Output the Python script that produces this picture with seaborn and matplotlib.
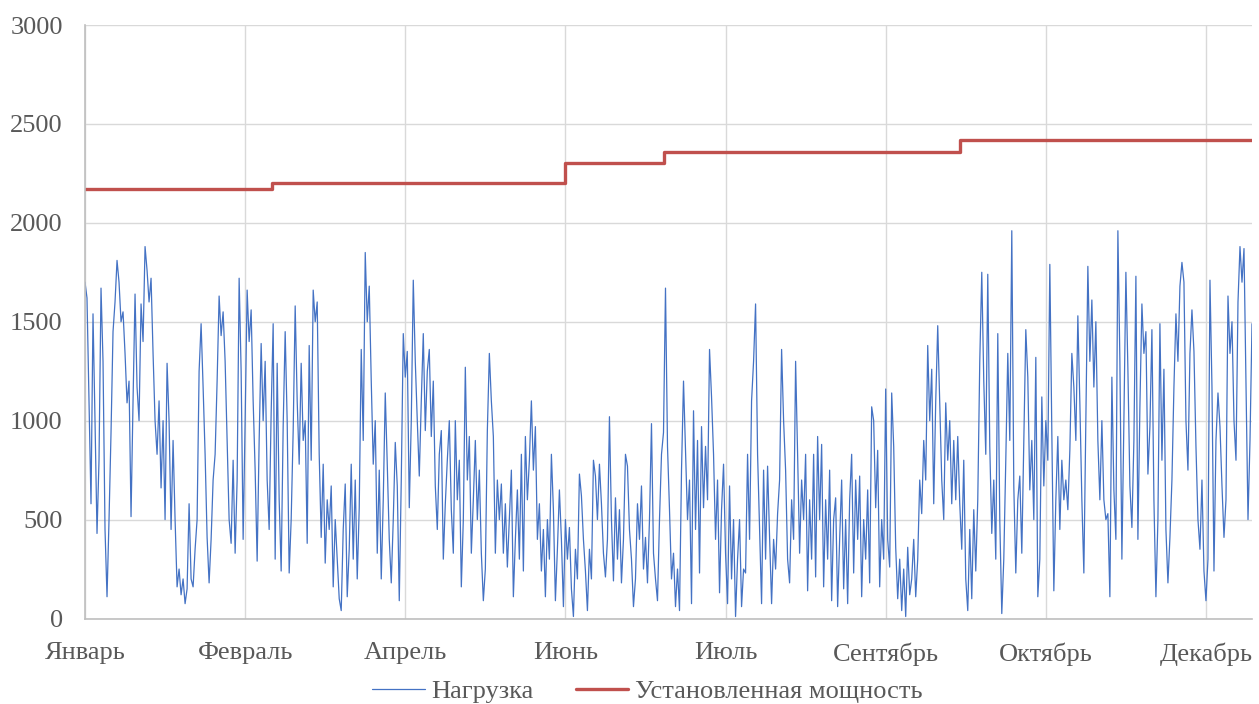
import numpy as np
import pandas as pd
import matplotlib
matplotlib.use("Agg")
import matplotlib.pyplot as plt
import seaborn as sns

# Hourly load over the year, sampled every 15 hours (MW)
LOAD = [
    1700, 1620, 1100, 580, 1540, 1000, 430, 800, 1670, 1300, 450, 110, 500, 940, 1450, 1600,
    1810, 1700, 1500, 1550, 1340, 1090, 1200, 515, 1100, 1640, 1170, 1000, 1590, 1400, 1880, 1760,
    1600, 1720, 1340, 1000, 830, 1100, 660, 1000, 500, 1290, 1000, 450, 900, 500, 160, 250,
    120, 200, 75, 150, 580, 200, 160, 350, 500, 1250, 1490, 1170, 830, 410, 180, 400,
    700, 830, 1200, 1630, 1430, 1550, 1300, 900, 500,
    380, 800, 330, 700, 1720, 1250, 400, 1000, 1660, 1400, 1560, 1100, 750, 290, 900, 1390,
    1000, 1300, 700, 450, 1040, 1490, 300, 1290, 600, 240, 970, 1450, 1000, 230, 500, 950,
    1580, 1100, 780, 1290, 900, 1000, 380, 1380, 800, 1660, 1500, 1600, 830, 410, 780, 280,
    600, 450, 670, 160, 500, 300, 100, 40, 450, 680, 110, 350, 780, 300, 700, 200,
    560, 1360, 900, 1850, 1500, 1680, 1200, 780,
    1000, 330, 750, 200, 600, 1140, 780, 400, 180, 500, 890, 670, 90, 700, 1440, 1220,
    1350, 560, 1000, 1710, 1300, 1000, 720, 1100, 1440, 950, 1250, 1360, 920, 1200, 670, 450,
    830, 950, 300, 580, 800, 1000, 550, 330, 1000, 600, 800, 160, 500, 1270, 700, 920,
    330, 600, 900, 500, 750, 330, 90, 250, 950, 1340, 1100, 920, 330, 700, 500, 680,
    330, 580, 260, 500, 750, 110, 400, 650, 300,
    830, 240, 920, 600, 800, 1100, 750, 970, 400, 580, 240, 450, 110, 500, 300, 830,
    550, 90, 350, 650, 400, 60, 500, 300, 460, 150, 10, 350, 200, 730, 620, 400,
    240, 40, 350, 200, 800, 720, 500, 780, 580, 330, 210, 400, 1020, 500, 190, 610,
    300, 550, 180, 400, 830, 770, 450, 300, 60, 200, 580, 400, 670, 250, 410, 180,
    500, 985, 330, 200, 90, 500, 830, 940, 1670,
    870, 550, 200, 330, 60, 250, 40, 750, 1200, 850, 500, 700, 75, 1050, 450, 900,
    230, 970, 560, 870, 600, 1360, 1120, 830, 400, 700, 130, 550, 780, 330, 75, 670,
    200, 500, 10, 300, 500, 60, 250, 230, 830, 400, 1100, 1300, 1590, 830, 450, 75,
    750, 300, 770, 410, 75, 400, 250, 530, 700, 1360, 1000, 750, 300, 180, 600, 400,
    1300, 830, 330, 700, 500, 830, 140,
    600, 300, 830, 210, 920, 500, 880, 160, 600, 300, 750, 90, 500, 610, 60, 400,
    700, 150, 500, 75, 600, 830, 230, 700, 400, 720, 110, 500, 300, 650, 180, 1070,
    1000, 560, 850, 160, 500, 300, 1160, 400, 260, 1140, 870, 360, 100, 300, 40, 250,
    10, 360, 120, 200, 400, 110, 300, 700, 530, 900, 700, 1380, 1000, 1260, 580, 1100,
    1480, 1090, 700, 500, 1090, 800, 1000, 580, 900,
    600, 920, 580, 350, 800, 200, 40, 450, 100, 550, 240, 600, 1300, 1750, 1200, 830,
    1740, 870, 430, 700, 300, 1440, 500, 25, 300, 800, 1340, 900, 1960, 670, 230, 600,
    720, 330, 900, 1460, 1220, 650, 900, 500, 1320, 110, 300, 1120, 670, 1000, 800, 1790,
    940, 140, 600, 920, 450, 800, 600, 700, 550, 850, 1340, 1170, 900, 1530, 1090, 600,
    230, 1000, 1780, 1300, 1610, 1170, 1500, 900, 600,
    1000, 600, 500, 530, 110, 1220, 650, 400, 1960, 1300, 300, 1000, 1750, 1260, 670, 460,
    900, 1730, 400, 1070, 1590, 1340, 1450, 730, 970, 1460, 600, 110, 500, 1490, 800, 1260,
    450, 180, 410, 700, 1170, 1540, 1300, 1680, 1800, 1700, 1000, 750, 1340, 1560, 1350, 870,
    500, 350, 700, 240, 90, 300, 1710, 1170, 240, 900, 1140, 970, 670, 410, 600, 1630,
    1340, 1500, 1000, 800, 1600, 1880, 1700, 1870, 1170, 500, 900, 1490,
]

# Installed capacity: hour at which each level starts, and the level (MW)
CAP_START_HOURS = [0, 1400, 3600, 4340, 6560]
CAP_VALUES = [2170, 2200, 2300, 2360, 2420]

# Category labels along the hour axis
MONTH_TICK_HOURS = [0, 1200, 2400, 3600, 4800, 6000, 7200, 8400]
MONTH_LABELS = ["Январь", "Февраль", "Апрель", "Июнь", "Июль", "Сентябрь", "Октябрь", "Декабрь"]

Y_TICKS = [0, 500, 1000, 1500, 2000, 2500, 3000]

HOURS_IN_YEAR = 8760

sns.set_theme(style="white")
plt.rcParams["font.family"] = ["Liberation Serif", "DejaVu Serif"]

W, H = 1259, 704
fig = plt.figure(figsize=(W / 100, H / 100), dpi=100)
ax = fig.add_axes([85 / W, 1 - 618.5 / H, (1252 - 85) / W, (618.5 - 25) / H])

n = len(LOAD)
hours = np.arange(n) * HOURS_IN_YEAR / n
load_df = pd.DataFrame({"hour": hours, "load": LOAD})

cap_x = CAP_START_HOURS + [hours[-1]]
cap_y = CAP_VALUES + [CAP_VALUES[-1]]
cap_df = pd.DataFrame({"hour": cap_x, "cap": cap_y})

sns.lineplot(data=load_df, x="hour", y="load", ax=ax, color="#4472C4",
             linewidth=0.9, label="Нагрузка")
sns.lineplot(data=cap_df, x="hour", y="cap", ax=ax, color="#C0504D",
             linewidth=2.4, drawstyle="steps-post", label="Установленная мощность")

ax.set_xlim(0, hours[-1])
ax.set_ylim(0, 3000)
ax.set_yticks(Y_TICKS)
ax.set_xticks(MONTH_TICK_HOURS)
ax.set_xticklabels(MONTH_LABELS)
ax.set_xlabel("")
ax.set_ylabel("")

ax.grid(True, color="#D9D9D9", linewidth=1.0)
ax.set_axisbelow(True)
for side in ("top", "right"):
    ax.spines[side].set_visible(False)
for side in ("left", "bottom"):
    ax.spines[side].set_color("#BFBFBF")
    ax.spines[side].set_linewidth(1.2)

ax.tick_params(axis="both", length=0, labelsize=19, labelcolor="#595959")
ax.tick_params(axis="y", pad=16)
ax.tick_params(axis="x", pad=17)

handles, labels = ax.get_legend_handles_labels()
ax.get_legend().remove()
fig.legend(handles, labels, loc="lower center", bbox_to_anchor=(0.514, -0.033),
           ncol=2, frameon=False, fontsize=19, handlelength=2.0,
           handletextpad=0.25, columnspacing=1.6, labelcolor="#595959")

fig.savefig("out.png", dpi=100)
